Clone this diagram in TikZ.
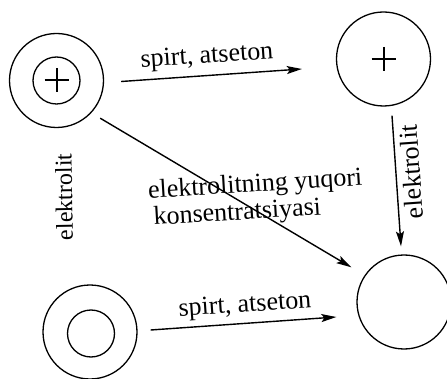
\documentclass[tikz,border=0pt]{standalone}
\usepackage{fontspec}
\setmainfont{Liberation Serif}
\usetikzlibrary{arrows.meta,calc}
\begin{document}
\begin{tikzpicture}[x=1pt,y=-1pt,
  ring/.style={circle,draw,line width=1.3pt,inner sep=0pt,minimum size=94pt},
  core/.style={circle,draw,line width=1.3pt,inner sep=0pt,minimum size=47pt},
  arr/.style={line width=1.4pt,-{Stealth[length=15pt,width=8pt,inset=3pt]}},
  lbl/.style={inner sep=0pt,font=\fontsize{26}{27}\selectfont},
  pluslines/.style={line width=2pt}]
\useasboundingbox (0,0) rectangle (447,379);
% circles
\node[ring] (tl) at (56.5,80.5) {};
\node[core] (tlin) at (56.5,80.5) {};
\node[ring] (tr) at (383.5,59) {};
\node[ring] (br) at (404,302) {};
\node[ring] (bl) at (90,332) {};
\node[core] (blin) at (91,333.5) {};
% plus signs
\draw[pluslines] ($(tlin.center)+(-12,0)$) -- ($(tlin.center)+(12,0)$);
\draw[pluslines] ($(tlin.center)+(0,-12)$) -- ($(tlin.center)+(0,12)$);
\draw[pluslines] ($(tr.center)+(-12,0)$) -- ($(tr.center)+(12,0)$);
\draw[pluslines] ($(tr.center)+(0,-12)$) -- ($(tr.center)+(0,12)$);
% arrows
\draw[arr] ($(tl.east)+(17,1)$) -- ($(tr.west)+(-34,10)$);
\draw[arr] ($(tl.south east)+(10,4)$) -- ($(br.north west)+(-19,-1)$);
\draw[arr] ($(tr.south)+(8.5,9)$) -- ($(br.north)+(-3,-8)$);
\draw[arr] ($(bl.east)+(13,-2)$) -- ($(br.west)+(-20,15)$);
% labels
\node[lbl,rotate=4] (l1) at (207,57) {spirt, atseton};
\node[lbl,rotate=4] (l2) at (245,306) {spirt, atseton};
\node[lbl,rotate=3.5,align=left] (l3) at (256,199) {elektrolitning yuqori\\\hspace*{4pt}konsentratsiyasi};
\node[lbl,rotate=91,font=\fontsize{24}{26}\selectfont] (l5) at (64,197) {elektrolit};
\node[lbl,rotate=94] (l6) at (411,172) {elektrolit};
\end{tikzpicture}
\end{document}
